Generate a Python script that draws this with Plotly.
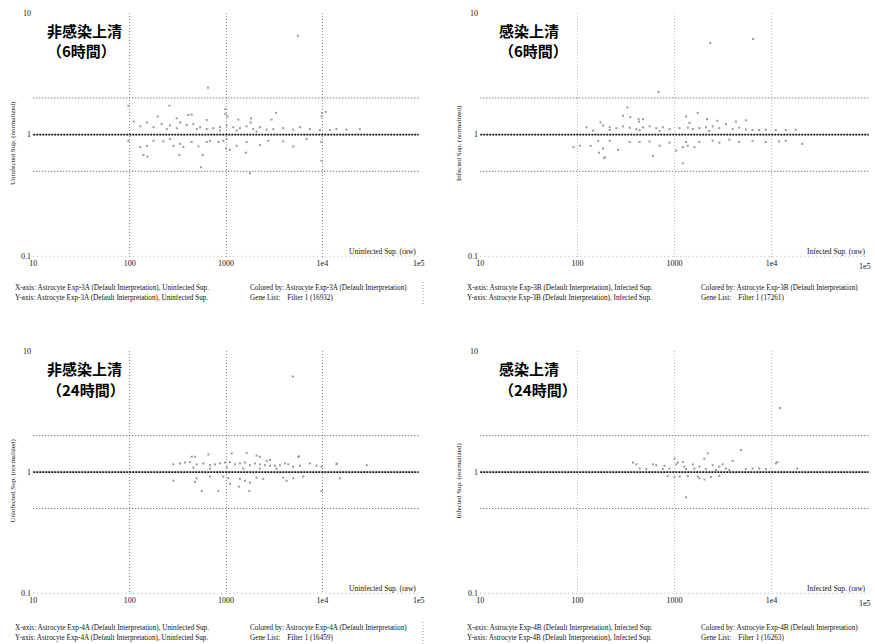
import plotly.graph_objects as go

# ---------------- data ----------------
# Panel 1: 非感染上清 (6時間)
x1 = [97, 259, 407, 440, 196, 308, 631, 984, 984, 1033, 1342, 1816, 1803, 3300, 2974, 10860, 9800,
      110, 151, 215, 263, 334, 391, 459, 538, 631, 739, 867, 1016, 1191, 1397, 1637, 1919, 2249, 2640,
      3097, 3926, 4989, 5848, 7420, 9420, 11960, 14020, 17800, 24480, 129, 177, 243, 308, 497, 867,
      1290, 2078,
      97, 129, 151, 139, 153, 224, 285, 334, 361, 328, 440, 517, 573, 551, 683, 834, 1016, 1000, 1100,
      1290, 1637, 1611, 2249, 2748, 3926, 4989, 6855, 9800, 9800, 938, 631, 263, 177,
      5570, 650, 9890, 1775]
y1 = [1.73, 1.73, 1.45, 1.46, 1.41, 1.36, 1.32, 1.62, 1.48, 1.41, 1.33, 1.36, 1.26, 1.51, 1.33, 1.54, 1.41,
      1.28, 1.26, 1.22, 1.19, 1.26, 1.20, 1.22, 1.15, 1.11, 1.13, 1.15, 1.19, 1.15, 1.13, 1.17, 1.11, 1.15, 1.10,
      1.11, 1.13, 1.10, 1.15, 1.11, 1.09, 1.09, 1.11, 1.10, 1.11, 1.17, 1.15, 1.11, 1.13, 1.11, 1.08,
      1.08, 1.06,
      0.89, 0.79, 0.81, 0.68, 0.66, 0.88, 0.81, 0.84, 0.79, 0.68, 0.87, 0.80, 0.68, 0.54, 0.89, 0.87, 0.92, 0.77, 0.75,
      0.81, 0.87, 0.71, 0.82, 0.89, 0.88, 0.80, 0.92, 0.87, 0.61, 0.89, 0.87, 0.92, 0.89,
      6.5, 2.43, 1.51, 0.48]

# Panel 2: 感染上清 (6時間)
x2 = [327, 295, 351, 427, 431, 473, 1318, 1735, 2163, 2760, 1426, 173, 124, 184, 215, 252, 295, 345,
      404, 473, 554, 649, 759, 889, 1125, 1371, 1542, 1804, 2113, 2473, 2895, 3390, 3966, 4641, 5431,
      6357, 7442, 8710, 11030, 13970, 17680, 4291, 5431, 145, 215, 437, 702, 2285,
      91, 106, 137, 164, 184, 167, 189, 262, 345, 437, 554, 600, 702, 889, 1040, 1217, 1371, 1604,
      1318, 1804, 2473, 2895, 3667, 4641, 6357, 8710, 11940, 13970, 20700, 1217, 215,
      2340, 6460, 686, 191]
y2 = [1.67, 1.43, 1.39, 1.34, 1.28, 1.34, 1.41, 1.51, 1.34, 1.30, 1.25, 1.26, 1.15, 1.19, 1.15, 1.13, 1.17, 1.14,
      1.11, 1.15, 1.17, 1.13, 1.15, 1.11, 1.13, 1.14, 1.11, 1.13, 1.15, 1.17, 1.13, 1.22, 1.11, 1.14, 1.10,
      1.09, 1.09, 1.10, 1.09, 1.09, 1.10, 1.28, 1.31, 1.08, 1.09, 1.09, 1.07, 1.07,
      0.79, 0.81, 0.81, 0.89, 0.77, 0.71, 0.64, 0.75, 0.87, 0.87, 0.88, 0.67, 0.81, 0.86, 0.74, 0.79, 0.81, 0.79,
      0.87, 0.87, 0.89, 0.86, 0.91, 0.87, 0.89, 0.87, 0.88, 0.89, 0.84, 0.58, 0.89,
      5.68, 6.12, 2.25, 0.65]

# Panel 3: 非感染上清 (24時間)
x3 = [441, 477, 656, 1145, 1637, 2078, 2249, 2638, 2856, 5617, 285, 333, 376, 424, 496, 582, 683, 769,
      866, 977, 1100, 1239, 1396, 1573, 1773, 1997, 2249, 2535, 2856, 3218, 3627, 4087, 4426, 4987,
      5843, 7418, 8694, 9790, 14020, 459, 683, 1016, 1512, 2249, 3347,
      285, 477, 496, 683, 938, 1057, 1100, 1396, 1573, 1773, 2078, 2435, 3927, 4253, 4987, 6329,
      15170, 559, 833, 1363, 1744, 9790,
      4940, 5720, 28900, 14120]
y3 = [1.34, 1.34, 1.40, 1.43, 1.44, 1.37, 1.34, 1.24, 1.26, 1.34, 1.16, 1.18, 1.20, 1.21, 1.16, 1.18, 1.14, 1.16,
      1.18, 1.20, 1.21, 1.16, 1.18, 1.20, 1.14, 1.18, 1.16, 1.14, 1.13, 1.13, 1.14, 1.18, 1.16, 1.11,
      1.13, 1.18, 1.13, 1.11, 1.16, 1.09, 1.07, 1.09, 1.07, 1.07, 1.07,
      0.85, 0.83, 0.89, 0.92, 0.92, 0.89, 0.80, 0.88, 0.85, 0.82, 0.90, 0.88, 0.90, 0.85, 0.89, 0.92,
      0.89, 0.70, 0.70, 0.76, 0.70, 0.70,
      6.15, 1.35, 1.14, 1.18]

# Panel 4: 感染上清 (24時間)
x4 = [374, 405, 600, 649, 790, 1000, 1041, 1082, 1218, 1267, 1543, 1604, 1805, 2031, 2198, 2473, 2894,
      3131, 3387, 3963, 4828, 5431, 6364, 7448, 8710, 11030, 11470, 18400, 438, 512, 759, 889, 1317,
      2113, 2675, 3664,
      855, 1000, 1126, 1370, 1735, 2031, 1805, 2378, 2894, 1317,
      12200]
y4 = [1.20, 1.16, 1.16, 1.14, 1.13, 1.29, 1.16, 1.20, 1.21, 1.11, 1.16, 1.07, 1.11, 1.29, 1.43, 1.14, 1.11,
      1.16, 1.07, 1.24, 1.52, 1.06, 1.07, 1.07, 1.06, 1.18, 1.21, 1.07, 1.07, 1.06, 1.06, 1.07, 1.06,
      1.06, 1.04, 1.04,
      0.93, 0.91, 0.92, 0.93, 0.92, 0.87, 0.89, 0.91, 0.93, 0.62,
      3.38]

x_ticks = [10, 100, 1000, 10000, 100000]
x_tick_text = ["10", "100", "1000", "1e4", "1e5"]
y_ticks = [0.1, 1, 10]
y_tick_text = ["0.1", "1", "10"]
ref_levels = [2, 1, 0.5]

titles = [("非感染上清", "（6時間）"), ("感染上清", "（6時間）"),
          ("非感染上清", "（24時間）"), ("感染上清", "（24時間）")]
x_titles = ["Uninfected Sup. (raw)", "Infected Sup. (raw)", "Uninfected Sup. (raw)", "Infected Sup. (raw)"]
y_titles = ["Uninfected Sup. (normalized)", "Infected Sup. (normalized)",
            "Uninfected Sup. (normalized)", "Infected Sup. (normalized)"]
experiments = ["3A", "3B", "4A", "4B"]
samples = ["Uninfected Sup.", "Infected Sup.", "Uninfected Sup.", "Infected Sup."]
gene_counts = ["16932", "17261", "16459", "16263"]

# ---------------- layout geometry (pixels) ----------------
W, H = 875, 644
panels = [  # left, right, top, bottom of plot area in px
    (33, 419, 13, 257),
    (480, 869, 13, 257),
    (33, 419, 351, 594),
    (480, 869, 351, 594),
]
xs = [x1, x2, x3, x4]
ys = [y1, y2, y3, y4]

fig = go.Figure()
serif = "Liberation Serif, DejaVu Serif, serif"
layout = dict(width=W, height=H, margin=dict(l=0, r=0, t=0, b=0, autoexpand=False),
              paper_bgcolor="white", plot_bgcolor="white", showlegend=False)
annotations = []
shapes = []

for i, (L, R, T, B) in enumerate(panels):
    n = "" if i == 0 else str(i + 1)
    xa, ya = "x" + n, "y" + n
    left_col = i % 2 == 0
    grid_col = "#8c8c8c" if left_col else "#bdbdbd"
    ttext = list(x_tick_text)
    if not left_col:
        ttext[-1] = ""  # drawn as right-aligned annotation to stay inside the page
    layout["xaxis" + n] = dict(
        type="log", domain=[L / W, R / W], range=[0.997, 5.003], anchor=ya,
        tickvals=x_ticks, ticktext=ttext, showgrid=True, gridcolor=grid_col,
        griddash="1px,2px", gridwidth=1, zeroline=False, showline=False, ticks="",
        tickfont=dict(family=serif, size=8, color="#111"), automargin=False,
    )
    layout["yaxis" + n] = dict(
        type="log", domain=[1 - B / H, 1 - T / H], range=[-1.006, 1.0], anchor=xa,
        tickvals=y_ticks, ticktext=y_tick_text, showgrid=False, zeroline=False,
        showline=False, ticks="", tickfont=dict(family=serif, size=8, color="#111"),
        automargin=False, ticklabelstandoff=1,
    )
    if not left_col:
        annotations.append(dict(text="1e5", x=(R + 4) / W, y=1 - (B + 9) / H, xref="paper", yref="paper",
                                xanchor="right", yanchor="middle", showarrow=False,
                                font=dict(family=serif, size=8, color="#111")))
    # bottom dotted axis line
    fig.add_trace(go.Scatter(x=[10, 100000], y=[0.1, 0.1], mode="lines", xaxis=xa, yaxis=ya,
                             line=dict(color="#a8a8a8", width=1, dash="1px,3px"), hoverinfo="skip"))
    # reference lines
    for lv in ref_levels:
        if lv == 1:
            ln = dict(color="#111", width=1.6, dash="2px,1px")
        else:
            ln = dict(color="#444", width=1, dash="1px,2px")
        fig.add_trace(go.Scatter(x=[10, 100000], y=[lv, lv], mode="lines", xaxis=xa, yaxis=ya,
                                 line=ln, hoverinfo="skip"))
    # points
    fig.add_trace(go.Scatter(x=xs[i], y=ys[i], mode="markers", xaxis=xa, yaxis=ya,
                             marker=dict(symbol="square", size=2, color="#9a9a9a",
                                         line=dict(width=0))))
    # panel titles
    t1, t2 = titles[i]
    tx = (L + 12) / W if left_col else (L + 17) / W
    annotations.append(dict(text="<b>" + t1 + "</b>", x=tx, y=1 - (T + 17) / H,
                            xref="paper", yref="paper", xanchor="left", yanchor="middle",
                            showarrow=False, font=dict(family="Noto Sans CJK JP", size=15, color="#000")))
    annotations.append(dict(text="<b>" + t2 + "</b>", x=tx, y=1 - (T + 38) / H,
                            xref="paper", yref="paper", xanchor="left", yanchor="middle",
                            showarrow=False, font=dict(family="Noto Sans CJK JP", size=15, color="#000")))
    # x-axis title (inside, bottom right)
    annotations.append(dict(text=x_titles[i], x=(R - 1) / W, y=1 - (B - 6) / H, xref="paper", yref="paper",
                            xanchor="right", yanchor="middle", showarrow=False,
                            font=dict(family=serif, size=7.5, color="#111")))
    # y-axis title
    ytx = 13 if left_col else 459
    annotations.append(dict(text=y_titles[i], x=ytx / W, y=1 - ((T + B) / 2 + 8) / H,
                            xref="paper", yref="paper", xanchor="center", yanchor="middle",
                            textangle=-90, showarrow=False,
                            font=dict(family=serif, size=7, color="#111")))
    # footers
    fx1 = 13 if left_col else 465
    fx2 = 248 if left_col else 699
    fy1 = B + 31 if i < 2 else B + 34
    fy2 = fy1 + 10
    exp = experiments[i]
    smp = samples[i]
    foot = [
        (fx1, fy1, f"X-axis: Astrocyte Exp-{exp} (Default Interpretation), {smp}"),
        (fx1, fy2, f"Y-axis: Astrocyte Exp-{exp} (Default Interpretation), {smp}"),
        (fx2, fy1, f"Colored by: Astrocyte Exp-{exp} (Default Interpretation)"),
        (fx2, fy2, f"Gene List:    Filter 1 ({gene_counts[i]})"),
    ]
    for fx, fy, txt in foot:
        annotations.append(dict(text=txt, x=fx / W, y=1 - fy / H, xref="paper", yref="paper",
                                xanchor="left", yanchor="middle", showarrow=False,
                                font=dict(family=serif, size=7.2, color="#111")))
    if left_col:
        shapes.append(dict(type="line", xref="paper", yref="paper", x0=423 / W, x1=423 / W,
                           y0=1 - (fy1 - 6) / H, y1=1 - (fy2 + 6) / H,
                           line=dict(color="#999", width=1, dash="1px,2px")))

layout["annotations"] = annotations
layout["shapes"] = shapes
fig.update_layout(**layout)
fig.write_html("out.html", config={"displayModeBar": False},
               post_script="document.body.style.margin='0';document.body.style.padding='0';")
